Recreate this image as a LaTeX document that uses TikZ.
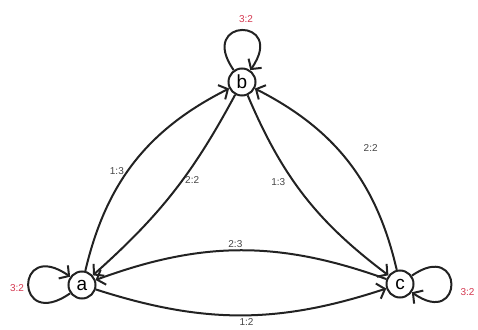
\documentclass[tikz,border=0pt]{standalone}
\usepackage{fontspec}
\setmainfont{Liberation Sans}
\usetikzlibrary{arrows.meta}
\definecolor{loopred}{RGB}{212,56,80}
\definecolor{inkgray}{RGB}{34,34,34}
\definecolor{labgray}{RGB}{70,70,70}
\begin{document}
\begin{tikzpicture}[x=1pt, y=1pt, >={Straight Barb[length=7pt,width=16pt]},
  state/.style={circle, draw=inkgray, line width=2pt, minimum size=27pt, inner sep=0pt, font=\fontsize{19}{19}\selectfont},
  trans/.style={->, draw=inkgray, line width=2pt},
  lab/.style={font=\fontsize{10}{11}\selectfont, text=labgray, inner sep=2pt},
  redlab/.style={font=\fontsize{10}{11}\selectfont, text=loopred}]
  \useasboundingbox (0,0) rectangle (478,329);
  \node[state] (a) at (82,44) {a};
  \node[state] (b) at (242,247) {b};
  \node[state] (c) at (400,45) {c};
  % a <-> b
  \draw[trans] (a) to[bend left=25] node[lab, pos=0.45, left=1pt] {1:3} (b);
  \draw[trans] (b) to[bend left=10] node[lab, pos=0.43, right] {2:2} (a);
  % b <-> c
  \draw[trans] (b) to[bend right=15] node[lab, pos=0.42, left=6pt] {1:3} (c);
  \draw[trans] (c) to[bend right=25] node[lab, pos=0.58, right=24pt] {2:2} (b);
  % a <-> c
  \draw[trans] (c) to[bend right=20] node[lab, pos=0.52, above] {2:3} (a);
  \draw[trans] (a) to[bend right=18] node[lab, pos=0.52, below] {1:2} (c);
  % loops
  \draw[trans] (b) to[out=125, in=55, looseness=1, min distance=65pt] node[redlab, above=3pt, xshift=4pt] {3:2} (b);
  \draw[trans] (a) to[out=215, in=145, looseness=1, min distance=68pt] node[redlab, left, yshift=-3pt] {3:2} (a);
  \draw[trans] (c) to[out=35, in=-35, looseness=1, min distance=64pt] node[redlab, right=5pt, yshift=-8pt] {3:2} (c);
\end{tikzpicture}
\end{document}
